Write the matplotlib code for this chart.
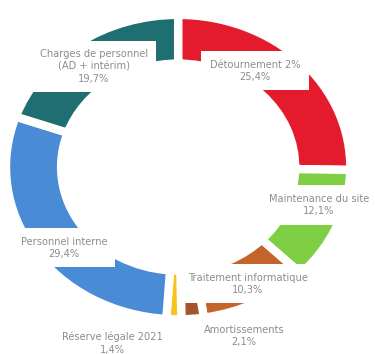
import matplotlib
matplotlib.use("Agg")
import matplotlib.pyplot as plt

# Répartition des charges (en %)
categories = [
    "Détournement 2%",
    "Maintenance du site",
    "Traitement informatique",
    "Amortissements",
    "Réserve légale 2021",
    "Personnel interne",
    "Charges de personnel\n(AD + intérim)",
]
values = [25.4, 12.1, 10.3, 2.1, 1.4, 29.4, 19.7]
colors = ["#e31b2c", "#7fcf45", "#c2642c", "#a4552a", "#f6c41b", "#4a8bd5", "#1f6e71"]

# label anchors (figure fraction)
label_pos = [
    (0.680, 0.800),
    (0.850, 0.421),
    (0.660, 0.198),
    (0.650, 0.050),
    (0.300, 0.030),
    (0.170, 0.300),
    (0.250, 0.812),
]

fig = plt.figure(figsize=(3.75, 3.54), dpi=100)
ax = fig.add_axes([0.016, 0.098, 0.918, 0.86])

ax.pie(values, colors=colors, startangle=90, counterclock=False,
       radius=1.0,
       wedgeprops=dict(width=0.32, edgecolor="white", linewidth=6))
ax.set_aspect("auto")
ax.set_xlim(-1, 1)
ax.set_ylim(-1, 1)

for name, val, (x, y) in zip(categories, values, label_pos):
    txt = f"{name}\n{val:.1f}%".replace(".", ",")
    fig.text(x, y, txt, ha="center", va="center", fontsize=7.1,
             color="#8c8c8c", linespacing=1.3,
             bbox=dict(facecolor="white", edgecolor="none", pad=6))

fig.savefig("out.png", dpi=100, facecolor="white")
